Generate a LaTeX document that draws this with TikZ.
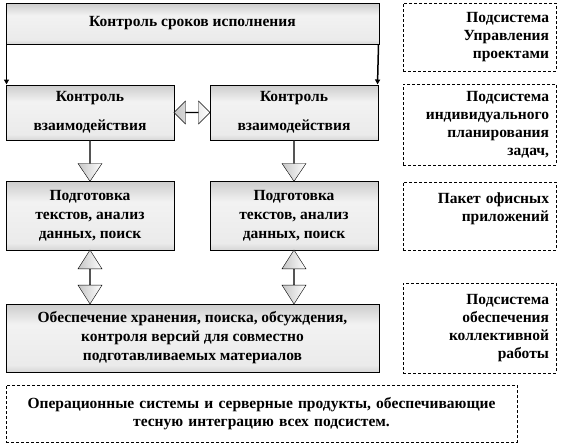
\documentclass[tikz,border=0pt]{standalone}
\usepackage{fontspec}
\setmainfont{Liberation Serif}
\usetikzlibrary{calc, shapes.arrows, arrows.meta, positioning}
\pgfdeclareverticalshading{blokfon}{100bp}{color(0bp)=(black!55); color(30bp)=(black!8);
    color(60bp)=(black!5); color(100bp)=(black!45)}

\begin{document}
\begin{tikzpicture}[x=1pt, y=-1pt,
        blok/.style={draw=black, line width=1pt, shading=blokfon,
            font=\bfseries\fontsize{15.5}{19}\selectfont, align=center, inner sep=0pt},
        podsis/.style={draw=black, densely dashed, thin, fill=white, font=\bfseries\fontsize{15.5}{18}\selectfont,
            align=right, text width=139pt, minimum width=153pt, inner sep=0pt},
        strelka/.style={draw=black, thin, left color=gray!45, right color=white, inner sep=0pt}]
    \useasboundingbox (0,0) rectangle (561,445);

    % основные блоки
    \node[blok, minimum width=373pt, minimum height=41pt] (srok) at (192.5,23.5) {Контроль сроков исполнения};
    \node[blok, minimum width=168pt, minimum height=55pt] (vz1) at (90,112.5) {Контроль\\[10pt]взаимодействия};
    \node[blok, minimum width=168pt, minimum height=55pt] (vz2) at (294,112.5) {Контроль\\[10pt]взаимодействия};
    \node[blok, minimum width=168pt, minimum height=69pt] (pd1) at (90,215.5) {Подготовка\\текстов, анализ\\данных, поиск};
    \node[blok, minimum width=168pt, minimum height=69pt] (pd2) at (294,215.5) {Подготовка\\текстов, анализ\\данных, поиск};
    \node[blok, minimum width=373pt, minimum height=68pt] (hran) at (192.5,338)
        {Обеспечение хранения, поиска, обсуждения,\\контроля версий для совместно\\подготавливаемых материалов};
    \node[podsis, text width=505pt, minimum width=511pt, minimum height=57pt, align=center] (os) at (261.5,413.5)
        {Операционные системы и серверные продукты, обеспечивающие\\тесную интеграцию всех подсистем.};

    % подсистемы справа
    \node[podsis, minimum height=68pt] (p1) at (479.5,37) {Подсистема\\Управления\\проектами};
    \node[podsis, minimum height=81pt] (p2) at (479.5,124.5) {Подсистема\\индивидуального\\планирования\\задач,};
    \node[podsis, minimum height=68pt] (p3) at (479.5,216) {Пакет офисных\\приложений\\\mbox{}};
    \node[podsis, minimum height=90pt] (p4) at (479.5,328) {Подсистема\\обеспечения\\коллективной\\работы};

    % связи
    \draw[-{Triangle[length=5pt,width=5pt]}, line width=1.5pt] ([xshift=1pt]srok.south west) -- ([xshift=1pt]vz1.north west);
    \draw[-{Triangle[length=5pt,width=5pt]}, line width=1.5pt] ([xshift=-1pt]srok.south east) -- ([xshift=-1pt]vz2.north east);

    \node[strelka, double arrow, minimum height=36pt, minimum width=23pt, double arrow head extend=6pt]
        (dh) at ($(vz1.east)!0.5!(vz2.west)$) {};
    \node[strelka, single arrow, rotate=-90, minimum height=41pt, minimum width=24pt,
        single arrow head extend=6.5pt, single arrow tip angle=68] (s1) at ($(vz1.south)!0.5!(pd1.north)$) {};
    \node[strelka, single arrow, rotate=-90, minimum height=41pt, minimum width=24pt,
        single arrow head extend=6.5pt, single arrow tip angle=68] (s2) at ($(vz2.south)!0.5!(pd2.north)$) {};
    \node[strelka, double arrow, rotate=90, minimum height=54pt, minimum width=24pt,
        double arrow head extend=6.5pt, double arrow tip angle=65] (dv1) at ($(pd1.south)!0.5!(hran.north -| pd1.south)$) {};
    \node[strelka, double arrow, rotate=90, minimum height=54pt, minimum width=24pt,
        double arrow head extend=6.5pt, double arrow tip angle=65] (dv2) at ($(pd2.south)!0.5!(hran.north -| pd2.south)$) {};
\end{tikzpicture}
\end{document}
